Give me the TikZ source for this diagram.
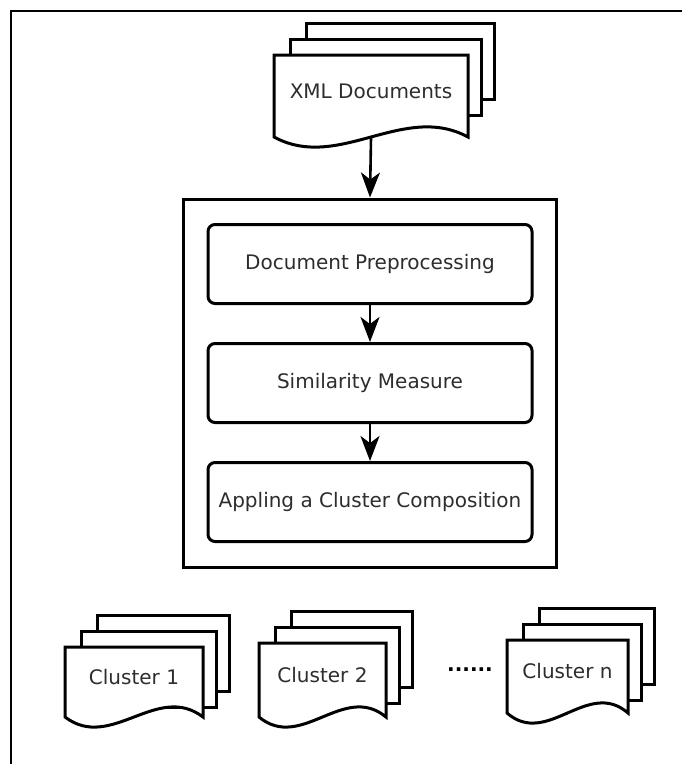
\documentclass[tikz,border=0pt]{standalone}
\usepackage{fontspec}
\setmainfont{DejaVu Sans}
\usepackage{tikz}
\usetikzlibrary{shapes,arrows.meta,calc,fit,positioning,backgrounds}

% stack of three sheets: name, left, top, right, bottom, text
\newcommand{\docstack}[6]{%
  \foreach \k in {2,1} {
    \draw[sheet] ({#2+\k*16},{#3-\k*16}) rectangle ({#4+\k*13},{#3-\k*16+76});
  }
  \draw[sheet] (#2,#3) -- (#4,#3) -- (#4,#5)
    .. controls ({#4-(#4-#2)/3},{#5-35}) and ({#2+(#4-#2)/3},{#5+35}) .. (#2,#5) -- cycle;
  \node[doclabel] (#1) at ({(#2+#4)/2},{(#3+#5)/2-5}) {#6};
  \coordinate (#1-bottom) at ({(#2+#4)/2},{#5+1});
}

\begin{document}
\begin{tikzpicture} [x=1pt, y=-1pt,
sheet/.style    = { draw=black, line width=3pt, fill=white, line join=miter },
doclabel/.style = { text=textgray, font=\fontsize{20}{23}\selectfont, inner sep=0pt },
stepbox/.style  = { rectangle, draw=black, line width=3pt, fill=white,
    text=textgray, font=\fontsize{20}{23}\selectfont,
    minimum width=324pt, minimum height=79pt, rounded corners=7pt },
outer/.style    = { rectangle, draw=black, line width=3pt,
    inner xsep=23pt, inner ysep=24pt },
line/.style     = { draw, line width=2.6pt,
    -{Stealth[length=25pt, width=19pt, inset=7pt]} },
]
\definecolor{textgray}{RGB}{45,45,45}
\useasboundingbox (0,0) rectangle (682,764);

% page frame
\draw[line width=2.6pt] (11,764) -- (11,11) -- (682,11);

% input documents
\docstack{xml}{274}{55}{468}{137}{XML Documents}

% clustering steps
\node [stepbox] (prep) at (370,264) {Document Preprocessing};
\node [stepbox, below=37pt of prep] (sim) {Similarity Measure};
\node [stepbox, below=37pt of sim] (apply) {Appling a Cluster Composition};
\node [outer, fit=(prep)(apply)] (clustering) {};

% output clusters
\docstack{clusterA}{65}{647}{203}{717}{Cluster 1}
\docstack{clusterB}{259}{643}{386}{717}{Cluster 2}
\docstack{clusterN}{507}{640}{628}{713}{Cluster n}
\node [doclabel, text=black] (dots) at (470,670) {\textbf{......}};

% connect all nodes defined above
\begin{scope} [every path/.style=line]
\path (xml-bottom) -- (clustering.north);
\path (prep) -- (sim);
\path (sim) -- (apply);
\end{scope}

\end{tikzpicture}
\end{document}
